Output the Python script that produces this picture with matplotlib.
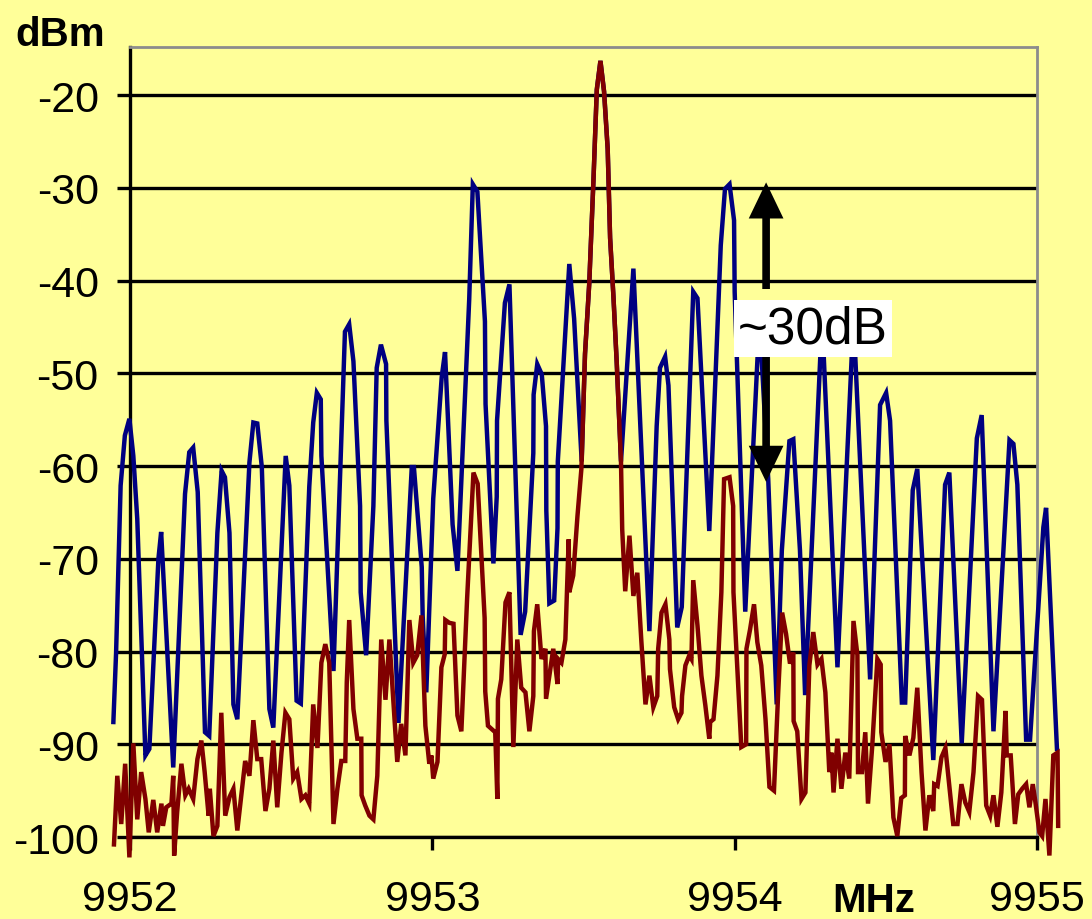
import matplotlib
matplotlib.use('Agg')
import matplotlib.pyplot as plt

plt.rcParams['font.family'] = ['Liberation Sans', 'DejaVu Sans']

# ---------------- data ----------------
x_ticks = [9952, 9953, 9954, 9955]
x_tick_labels = ['9952', '9953', '9954', '9955']
y_ticks = [-100, -90, -80, -70, -60, -50, -40, -30, -20]
y_tick_labels = ['-100', '-90', '-80', '-70', '-60', '-50', '-40', '-30', '-20']

# modulated spectrum (blue)
blue_mhz = [
    9951.945, 9951.954, 9951.969, 9951.983, 9951.998, 9952.011, 9952.024, 9952.051, 9952.064, 9952.094,
    9952.103, 9952.143, 9952.182, 9952.196, 9952.209, 9952.224, 9952.248, 9952.262, 9952.289, 9952.303,
    9952.314, 9952.329, 9952.342, 9952.355, 9952.395, 9952.408, 9952.421, 9952.436, 9952.461, 9952.474,
    9952.515, 9952.527, 9952.551, 9952.565, 9952.593, 9952.606, 9952.618, 9952.631, 9952.633, 9952.673,
    9952.711, 9952.725, 9952.739, 9952.761, 9952.763, 9952.781, 9952.805, 9952.816, 9952.830, 9952.847,
    9952.848, 9952.888, 9952.932, 9952.939, 9952.965, 9952.968, 9952.980, 9953.003, 9953.031, 9953.042,
    9953.067, 9953.083, 9953.122, 9953.134, 9953.149, 9953.174, 9953.176, 9953.202, 9953.213, 9953.214,
    9953.240, 9953.255, 9953.292, 9953.307, 9953.334, 9953.335, 9953.347, 9953.362, 9953.376, 9953.377,
    9953.387, 9953.403, 9953.414, 9953.415, 9953.453, 9953.469, 9953.494, 9953.505, 9953.519, 9953.533,
    9953.544, 9953.556, 9953.568, 9953.580, 9953.588, 9953.599, 9953.610, 9953.624, 9953.665, 9953.718,
    9953.742, 9953.753, 9953.770, 9953.781, 9953.810, 9953.825, 9953.863, 9953.877, 9953.916, 9953.954,
    9953.968, 9953.983, 9953.998, 9954.000, 9954.035, 9954.082, 9954.111, 9954.139, 9954.156, 9954.181,
    9954.194, 9954.216, 9954.233, 9954.289, 9954.340, 9954.393, 9954.448, 9954.481, 9954.501, 9954.514,
    9954.553, 9954.564, 9954.589, 9954.604, 9954.657, 9954.696, 9954.710, 9954.751, 9954.801, 9954.817,
    9954.856, 9954.909, 9954.922, 9954.935, 9954.964, 9954.977, 9955.021, 9955.030, 9955.066,
]
blue_dbm = [
    -87.6, -80.1, -62.1, -56.7, -54.9, -58.9, -65.7, -91.2, -90.5, -70.0,
    -67.1, -92.5, -63.0, -58.5, -58.0, -62.8, -88.7, -89.1, -67.2, -60.5,
    -61.2, -67.2, -85.7, -87.3, -59.6, -55.3, -55.4, -60.1, -86.2, -88.2,
    -58.9, -62.1, -85.3, -85.6, -62.2, -55.3, -52.1, -52.8, -58.9, -82.1,
    -45.5, -44.7, -48.7, -64.3, -73.6, -80.4, -64.3, -49.4, -46.9, -49.0,
    -55.1, -87.7, -60.1, -60.1, -70.9, -76.1, -84.4, -63.5, -50.4, -47.7,
    -66.3, -71.3, -42.0, -29.6, -30.4, -44.4, -53.3, -70.5, -63.3, -55.1,
    -42.4, -40.4, -78.2, -75.7, -58.6, -52.3, -49.0, -50.1, -55.7, -64.8,
    -74.8, -74.5, -66.7, -59.5, -38.2, -44.1, -59.5, -47.9, -40.3, -29.1,
    -19.4, -16.3, -19.6, -25.8, -35.4, -41.7, -48.9, -59.5, -38.7, -77.8,
    -55.7, -49.4, -48.2, -51.3, -77.4, -75.2, -41.2, -41.9, -67.0, -36.2,
    -30.1, -29.6, -33.5, -41.2, -75.7, -44.0, -61.4, -85.7, -69.1, -57.3,
    -57.1, -69.1, -84.7, -44.0, -81.7, -44.0, -83.0, -53.4, -52.1, -55.1,
    -85.5, -85.5, -62.6, -60.3, -91.7, -62.0, -60.7, -89.9, -57.0, -54.5,
    -88.6, -57.2, -57.6, -62.0, -89.5, -89.5, -66.6, -64.5, -90.5,
]

# unmodulated carrier (red)
red_mhz = [
    9951.947, 9951.958, 9951.971, 9951.984, 9951.998, 9952.011, 9952.024, 9952.037, 9952.051, 9952.062,
    9952.077, 9952.090, 9952.104, 9952.109, 9952.120, 9952.137, 9952.143, 9952.146, 9952.156, 9952.170,
    9952.183, 9952.194, 9952.209, 9952.223, 9952.236, 9952.247, 9952.260, 9952.264, 9952.276, 9952.289,
    9952.302, 9952.315, 9952.329, 9952.342, 9952.355, 9952.381, 9952.395, 9952.408, 9952.421, 9952.434,
    9952.448, 9952.461, 9952.474, 9952.487, 9952.501, 9952.514, 9952.527, 9952.540, 9952.553, 9952.567,
    9952.580, 9952.593, 9952.606, 9952.620, 9952.633, 9952.646, 9952.659, 9952.673, 9952.686, 9952.699,
    9952.712, 9952.717, 9952.725, 9952.739, 9952.752, 9952.765, 9952.766, 9952.778, 9952.792, 9952.805,
    9952.818, 9952.831, 9952.845, 9952.858, 9952.884, 9952.897, 9952.911, 9952.924, 9952.937, 9952.950,
    9952.964, 9952.977, 9952.990, 9952.997, 9953.003, 9953.017, 9953.030, 9953.041, 9953.043, 9953.056,
    9953.070, 9953.083, 9953.096, 9953.115, 9953.136, 9953.150, 9953.173, 9953.175, 9953.184, 9953.198,
    9953.208, 9953.215, 9953.217, 9953.228, 9953.242, 9953.255, 9953.268, 9953.281, 9953.294, 9953.308,
    9953.321, 9953.334, 9953.336, 9953.347, 9953.361, 9953.374, 9953.376, 9953.400, 9953.414, 9953.416,
    9953.427, 9953.440, 9953.451, 9953.453, 9953.466, 9953.480, 9953.493, 9953.505, 9953.519, 9953.533,
    9953.544, 9953.556, 9953.568, 9953.580, 9953.588, 9953.599, 9953.610, 9953.624, 9953.628, 9953.638,
    9953.652, 9953.665, 9953.678, 9953.691, 9953.705, 9953.718, 9953.731, 9953.744, 9953.747, 9953.758,
    9953.771, 9953.784, 9953.786, 9953.800, 9953.813, 9953.824, 9953.826, 9953.837, 9953.850, 9953.857,
    9953.863, 9953.877, 9953.890, 9953.903, 9953.916, 9953.919, 9953.930, 9953.943, 9953.956, 9953.965,
    9953.983, 9953.995, 9953.996, 9954.009, 9954.022, 9954.038, 9954.039, 9954.051, 9954.064, 9954.075,
    9954.088, 9954.102, 9954.115, 9954.130, 9954.144, 9954.157, 9954.170, 9954.183, 9954.194, 9954.195,
    9954.207, 9954.221, 9954.234, 9954.247, 9954.260, 9954.274, 9954.287, 9954.300, 9954.313, 9954.320,
    9954.327, 9954.340, 9954.353, 9954.366, 9954.379, 9954.393, 9954.406, 9954.408, 9954.421, 9954.432,
    9954.441, 9954.455, 9954.472, 9954.483, 9954.485, 9954.499, 9954.512, 9954.525, 9954.538, 9954.551,
    9954.563, 9954.564, 9954.578, 9954.591, 9954.604, 9954.618, 9954.631, 9954.644, 9954.657, 9954.660,
    9954.671, 9954.684, 9954.697, 9954.710, 9954.723, 9954.737, 9954.750, 9954.763, 9954.776, 9954.790,
    9954.805, 9954.818, 9954.832, 9954.845, 9954.856, 9954.869, 9954.882, 9954.896, 9954.900, 9954.913,
    9954.927, 9954.938, 9954.951, 9954.964, 9954.975, 9954.986, 9954.995, 9955.008, 9955.017, 9955.028,
    9955.041, 9955.054, 9955.068, 9955.070,
]
red_dbm = [
    -100.8, -93.4, -98.6, -92.1, -102.2, -89.9, -98.1, -93.0, -95.9, -99.5,
    -96.0, -99.5, -96.4, -98.8, -96.8, -96.4, -93.4, -102.0, -97.3, -92.1,
    -95.5, -94.8, -95.9, -91.6, -89.6, -93.0, -97.7, -94.8, -99.9, -98.8,
    -86.6, -97.7, -95.7, -94.8, -99.3, -91.8, -93.4, -87.4, -91.6, -91.6,
    -97.2, -94.8, -89.6, -96.8, -90.9, -86.6, -87.3, -93.7, -93.0, -95.9,
    -95.5, -96.4, -85.7, -90.4, -81.2, -79.2, -81.2, -98.6, -94.8, -91.8,
    -91.8, -83.3, -76.6, -86.2, -89.4, -89.4, -95.5, -96.6, -97.7, -98.1,
    -93.4, -78.7, -85.2, -78.7, -91.9, -87.8, -91.2, -76.6, -81.2, -80.4,
    -76.1, -88.0, -92.1, -91.2, -93.7, -91.9, -81.7, -80.3, -76.6, -76.9,
    -77.0, -86.9, -88.6, -74.3, -60.7, -61.9, -76.4, -84.3, -88.0, -88.4,
    -88.7, -95.9, -85.1, -83.0, -74.7, -73.6, -90.3, -78.7, -83.9, -84.4,
    -88.6, -84.8, -77.8, -74.9, -80.8, -79.7, -85.1, -79.7, -83.5, -80.8,
    -81.2, -78.7, -67.9, -73.6, -71.8, -65.4, -60.3, -47.9, -40.3, -29.1,
    -19.4, -16.3, -19.6, -25.8, -35.4, -41.7, -48.9, -59.5, -66.8, -73.5,
    -67.5, -74.0, -71.5, -78.7, -85.7, -82.6, -86.0, -84.8, -79.7, -75.8,
    -74.9, -78.7, -81.9, -86.0, -87.3, -86.6, -84.8, -81.5, -80.4, -80.8,
    -72.3, -77.2, -82.6, -85.8, -89.4, -87.6, -87.3, -82.6, -73.6, -61.4,
    -61.2, -64.3, -73.6, -81.9, -90.3, -90.0, -79.7, -77.6, -74.9, -79.0,
    -81.5, -87.3, -94.6, -95.0, -84.4, -75.8, -78.1, -81.3, -80.1, -87.5,
    -88.6, -95.9, -95.2, -81.5, -77.9, -81.4, -80.8, -84.4, -93.0, -90.9,
    -95.2, -89.4, -94.8, -90.9, -93.7, -76.7, -80.4, -93.0, -93.0, -88.7,
    -96.4, -90.2, -80.8, -81.4, -88.7, -91.9, -90.0, -97.9, -99.9, -95.8,
    -95.5, -89.1, -91.2, -89.3, -83.9, -93.0, -99.3, -95.5, -97.2, -94.3,
    -94.5, -91.4, -90.4, -94.5, -98.6, -98.6, -94.3, -96.3, -97.3, -93.0,
    -84.8, -85.2, -96.6, -97.7, -95.5, -98.9, -95.2, -86.4, -91.2, -91.2,
    -98.6, -95.4, -94.8, -94.3, -96.8, -94.3, -96.3, -99.5, -99.9, -95.9,
    -102.0, -91.2, -90.9, -98.8,
]

annot_text = '~30dB'
annot_mhz = 9954.104
annot_top_dbm = -29.4      # tip of upper arrow
annot_bottom_dbm = -61.7   # tip of lower arrow
annot_label_dbm = -45.2

# ---------------- figure ----------------
BG = '#FFFF99'
fig = plt.figure(figsize=(10.92, 9.2), dpi=100, facecolor=BG)
ax = fig.add_axes([130 / 1092, 1 - 838 / 920, 907 / 1092, 790 / 920])
ax.set_facecolor(BG)
ax.set_xlim(x_ticks[0], x_ticks[-1])
ax.set_ylim(-100, -14.8)

ax.set_yticks(y_ticks)
ax.set_yticklabels(y_tick_labels)
ax.set_xticks(x_ticks)
ax.set_xticklabels(x_tick_labels)

ax.yaxis.grid(True, color='black', linewidth=2.4, zorder=1)
ax.set_axisbelow(True)

ax.tick_params(axis='y', direction='out', length=9.5, width=2.4, pad=13,
               labelsize=31, colors='black')
ax.tick_params(axis='x', direction='out', length=9, width=2.4, pad=21,
               labelsize=31, colors='black')

for side in ('left', 'bottom'):
    ax.spines[side].set_color('black')
    ax.spines[side].set_linewidth(2.4)
for side in ('top', 'right'):
    ax.spines[side].set_color('#8c8c8c')
    ax.spines[side].set_linewidth(2.0)

ax.plot(blue_mhz, blue_dbm, color='#000080', linewidth=3.2, clip_on=False,
        zorder=3, solid_joinstyle='miter')
ax.plot(red_mhz, red_dbm, color='#800000', linewidth=3.2, clip_on=False,
        zorder=4, solid_joinstyle='miter')

# annotation: label with white box and two arrows
ax.text(9954.258, annot_label_dbm, annot_text, fontsize=37, ha='center',
        va='center', zorder=7,
        bbox=dict(facecolor='white', edgecolor='none', pad=3))
arrow_kw = dict(facecolor='black', edgecolor='none', width=5.5,
                headwidth=25, headlength=26, shrink=0)
ax.annotate('', xy=(annot_mhz, annot_top_dbm), xytext=(annot_mhz, -40.9),
            arrowprops=arrow_kw, zorder=6)
ax.annotate('', xy=(annot_mhz, annot_bottom_dbm), xytext=(annot_mhz, -48.1),
            arrowprops=arrow_kw, zorder=6)

fig.text(60 / 1092, 1 - 35 / 920, 'dBm', fontsize=29, fontweight='bold',
         ha='center', va='center')
fig.text(874 / 1092, 1 - 901 / 920, 'MHz', fontsize=29, fontweight='bold',
         ha='center', va='center')

fig.savefig('out.png', dpi=100, facecolor=BG)
